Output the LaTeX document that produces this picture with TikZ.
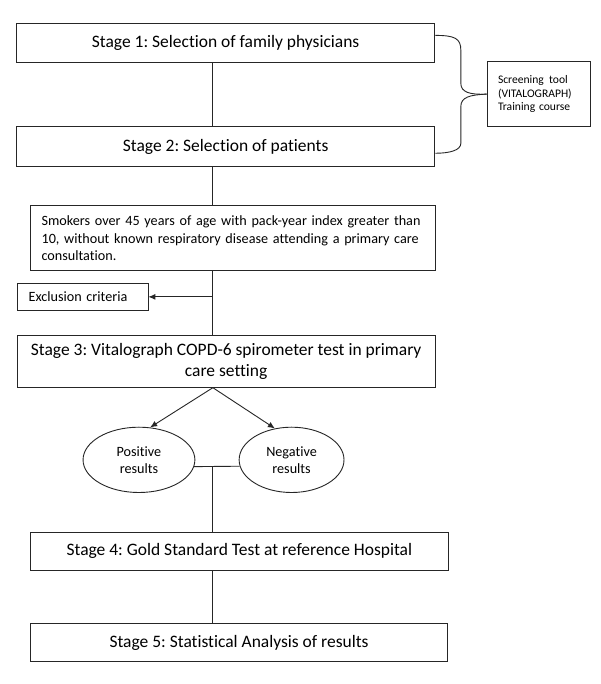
\documentclass[tikz,border=0pt]{standalone}
\usepackage{fontspec}
\setmainfont{Carlito}[Ligatures=NoCommon]
\usetikzlibrary{arrows.meta,shapes.geometric}
\frenchspacing
\begin{document}
\begin{tikzpicture}[x=1pt,y=-1pt,
  every path/.style={line width=0.9pt,draw=black!85},
  stagebox/.style={draw,rectangle,inner sep=0pt,font=\fontsize{17.5}{20.5}\selectfont,align=center},
  smallbox/.style={draw,rectangle,inner sep=0pt,font=\fontsize{14.2}{17.5}\selectfont,align=left},
  tinybox/.style={draw,rectangle,inner sep=0pt,font=\fontsize{11.6}{13.8}\selectfont,align=left},
  oval/.style={draw,ellipse,inner sep=0pt,font=\fontsize{14.2}{17.3}\selectfont,align=center},
  arr/.style={-{Latex[length=7pt,width=6pt]}}]
\useasboundingbox (0,0) rectangle (600,684);
\fill[white] (0,0) rectangle (600,684);
\coordinate (spine) at (212.7,0);
\node[stagebox,minimum width=419pt,minimum height=39pt] (s1) at (225.5,42.2) {Stage 1: Selection of family physicians};
\node[stagebox,minimum width=419pt,minimum height=39.3pt] (s2) at (225.5,146.3) {Stage 2: Selection of patients};
\node[tinybox,minimum width=104pt,minimum height=65.6pt,text width=82pt] (tool) at (539.2,93.8) {Screening\hspace{0.45em}tool\\(VITALOGRAPH)\\Training course};
\node[smallbox,minimum width=405.3pt,minimum height=64.6pt,text width=383pt] (smk) at (232.7,238) {Smokers over 45 years of age with pack-year index greater than\\10, without known respiratory disease attending a primary care\\consultation.};
\node[smallbox,minimum width=131pt,minimum height=26.3pt,text width=108pt] (excl) at (82.2,296.8) {Exclusion criteria};
\node[stagebox,minimum width=418.6pt,minimum height=51.6pt] (s3) at (226,361.5) {Stage 3: Vitalograph COPD-6 spirometer test in primary\\care setting};
\node[oval,minimum width=112pt,minimum height=65.4pt] (pos) at (138.7,460) {Positive\\results};
\node[oval,minimum width=105pt,minimum height=65.4pt] (neg) at (291.5,460) {Negative\\results};
\node[stagebox,minimum width=418.3pt,minimum height=38.7pt] (s4) at (239.2,551.7) {Stage 4: Gold Standard Test at reference Hospital};
\node[stagebox,minimum width=417.7pt,minimum height=38.3pt] (s5) at (238.9,643.2) {Stage 5: Statistical Analysis of results};
% spine
\draw (s1.south -| spine) -- (s2.north -| spine);
\draw (s2.south -| spine) -- (smk.north -| spine);
\draw (smk.south -| spine) -- (s3.north -| spine);
\coordinate (ex) at (excl.east -| spine);
\draw[arr] (ex) -- (excl.east);
\coordinate (s3b) at (s3.south -| spine);
\draw[arr] (s3b) -- (pos.71);
\draw[arr] (s3b) -- (neg.118);
\draw (pos.-7) -- (neg.187);
\coordinate (j) at (212.7,467);
\draw (j) -- (s4.north -| spine);
\draw (s4.south -| spine) -- (s5.north -| spine);
% brace
\draw (s1.east |- 0,35) .. controls (455,35) and (461,38) .. (461,50) -- (461,83)
  .. controls (461,92) and (470,94.5) .. (tool.west);
\draw (tool.west) .. controls (470,94.5) and (461,97) .. (461,106) -- (461,143)
  .. controls (461,150) and (450,153) .. (s2.east |- 0,153);
\end{tikzpicture}
\end{document}
